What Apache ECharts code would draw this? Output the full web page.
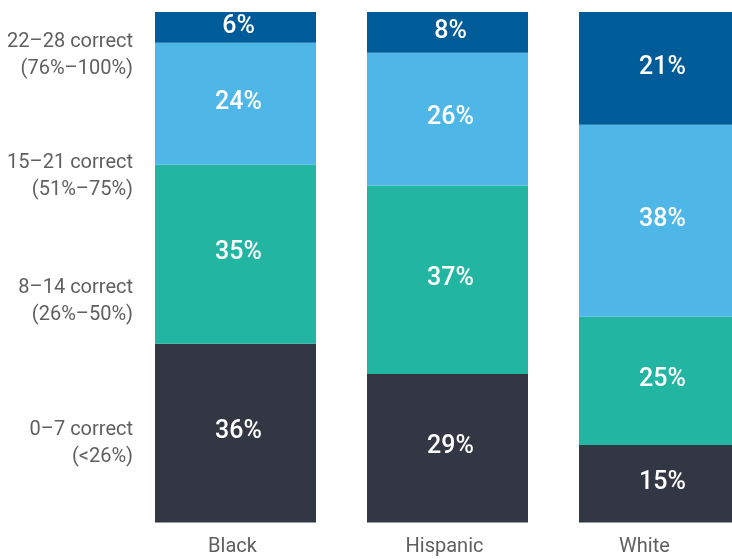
<!DOCTYPE html>
<html>
<head>
<meta charset="utf-8">
<script src="https://cdn.jsdelivr.net/npm/echarts@6/dist/echarts.min.js"></script>
<style>html,body{margin:0;padding:0;background:#fff}#c{width:732px;height:559px}</style>
</head>
<body>
<div id="c"></div>
<script>
// Categories (bars)
const groups = ['Black', 'Hispanic', 'White'];

// Score bands (bottom to top) and their left-side labels
const bandNames = ['0–7 correct', '8–14 correct', '15–21 correct', '22–28 correct'];
const bandLabels = ['0–7 correct\n(<26%)', '8–14 correct\n(26%–50%)', '15–21 correct\n(51%–75%)', '22–28 correct\n(76%–100%)'];
// where each band label sits on the 0–100 scale
const bandLabelAt = [15.5, 43.2, 67.7, 91.4];

// Segment sizes (percent of bar), per band, for Black, Hispanic, White
const band0 = [35.0, 29.1, 15.2];
const band1 = [35.1, 36.9, 25.1];
const band2 = [23.9, 26.0, 37.6];
const band3 = [6.0, 8.0, 22.1];

// Printed labels
const label0 = [36, 29, 15];
const label1 = [35, 37, 25];
const label2 = [24, 26, 38];
const label3 = [6, 8, 21];

const colors = ['#333743', '#21B5A2', '#4FB7E7', '#005C99'];
const values = [band0, band1, band2, band3];
const labels = [label0, label1, label2, label3];

const FONT = 'Roboto, "Noto Sans", sans-serif';

const chart = echarts.init(document.getElementById('c'), null, {renderer: 'canvas'});
chart.setOption({
  animation: false,
  backgroundColor: '#ffffff',
  grid: {left: 129.5, right: -33.5, top: 12, bottom: 36.5, containLabel: false, outerBoundsMode: 'none'},
  xAxis: {
    type: 'category',
    data: groups,
    axisLine: {show: false},
    axisTick: {show: false},
    axisLabel: {
      margin: 14,
      color: '#606060',
      fontFamily: FONT,
      fontSize: 20,
      formatter: function (v) { return v === 'White' ? '{w|' + v + '}' : '{n|' + v + '}'; },
      rich: {
        n: {fontFamily: FONT, fontSize: 20, color: '#606060', padding: [0, 6, 0, 0]},
        w: {fontFamily: FONT, fontSize: 20, color: '#606060', padding: [0, 30, 0, 0]}
      }
    }
  },
  yAxis: {
    type: 'value',
    min: 0,
    max: 100,
    splitLine: {show: false},
    axisLine: {show: false},
    axisTick: {show: false},
    axisLabel: {
      customValues: bandLabelAt,
      margin: -3.5,
      color: '#606060',
      fontFamily: FONT,
      fontSize: 20,
      lineHeight: 27,
      align: 'right',
      formatter: function (v) {
        let i = bandLabelAt.indexOf(v);
        if (i < 0) {
          let best = 0;
          for (let k = 1; k < bandLabelAt.length; k++) if (Math.abs(bandLabelAt[k] - v) < Math.abs(bandLabelAt[best] - v)) best = k;
          i = best;
        }
        return bandLabels[i];
      }
    }
  },
  series: values.map(function (arr, s) {
    return {
      name: bandNames[s],
      type: 'bar',
      stack: 'total',
      barWidth: 161,
      data: arr,
      itemStyle: {color: colors[s]},
      label: {
        show: true,
        position: 'inside',
        offset: [3, -1],
        color: '#ffffff',
        fontFamily: FONT,
        fontSize: 25,
        fontWeight: 500,
        formatter: function (p) { return labels[s][p.dataIndex] + '%'; }
      }
    };
  })
});
</script>
</body>
</html>
